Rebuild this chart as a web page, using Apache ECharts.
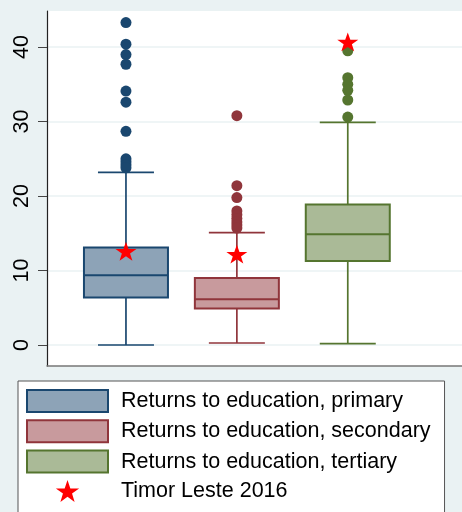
<!DOCTYPE html>
<html>
<head>
<meta charset="utf-8">
<script src="https://cdn.jsdelivr.net/npm/echarts@6/dist/echarts.min.js"></script>
<style>
  html, body { margin: 0; padding: 0; background: #eaf2f3; }
  #chart { width: 462px; height: 512px; }
</style>
</head>
<body>
<div id="chart"></div>
<script>
// box plot stats
const categories = ['Returns to education, primary', 'Returns to education, secondary', 'Returns to education, tertiary'];
const whiskerLow = [0, 0.27, 0.19];
const q1 = [6.37, 4.89, 11.29];
const median = [9.37, 6.14, 14.88];
const q3 = [13.09, 9.0, 18.87];
const whiskerHigh = [23.17, 15.1, 29.9];
const outliers = [
  [43.3, 40.4, 39.0, 37.7, 34.1, 32.6, 28.7, 25.0, 24.6, 24.2, 23.8],
  [30.8, 21.4, 19.8, 18.0, 17.5, 17.0, 16.5, 16.1, 15.7],
  [39.5, 35.9, 35.0, 34.2, 32.9, 30.6]
];
const timorLeste = [12.6, 12.2, 40.7];
const starName = 'Timor Leste 2016';
const yTicks = [0, 10, 20, 30, 40];

const lineColors = ['#1a476f', '#90353b', '#55752f'];
const fillColors = ['#8da3b7', '#c89a9d', '#aaba97'];
const starPath = 'path://M50,0 L61.8,35.1 L98.1,35.1 L68.8,56.7 L79.4,91 L50,70 L20.6,91 L31.2,56.7 L1.9,35.1 L38.2,35.1 Z';
const fontFamily = '"Liberation Sans", Arial, sans-serif';

const chart = echarts.init(document.getElementById('chart'));

// draws one stata-style box: whiskers with short caps, filled box, median line
const boxRenderer = (i) => (params, api) => {
  const x = api.value(0);
  const lo = api.coord([x, api.value(1)]);
  const b = api.coord([x, api.value(2)]);
  const m = api.coord([x, api.value(3)]);
  const t = api.coord([x, api.value(4)]);
  const hi = api.coord([x, api.value(5)]);
  const halfBox = 42, halfCap = 28;
  const line = { stroke: lineColors[i], lineWidth: 1.7 };
  return {
    type: 'group',
    children: [
      { type: 'line', shape: { x1: lo[0], y1: lo[1], x2: b[0], y2: b[1] }, style: line },
      { type: 'line', shape: { x1: t[0], y1: t[1], x2: hi[0], y2: hi[1] }, style: line },
      { type: 'line', shape: { x1: lo[0] - halfCap, y1: lo[1], x2: lo[0] + halfCap, y2: lo[1] }, style: line },
      { type: 'line', shape: { x1: hi[0] - halfCap, y1: hi[1], x2: hi[0] + halfCap, y2: hi[1] }, style: line },
      { type: 'rect', shape: { x: t[0] - halfBox, y: t[1], width: halfBox * 2, height: b[1] - t[1] },
        style: { fill: fillColors[i], stroke: lineColors[i], lineWidth: 2 } },
      { type: 'line', shape: { x1: m[0] - halfBox, y1: m[1], x2: m[0] + halfBox, y2: m[1] },
        style: { stroke: lineColors[i], lineWidth: 2 } }
    ]
  };
};

const series = [];
categories.forEach((name, i) => {
  series.push({
    name: name,
    type: 'custom',
    renderItem: boxRenderer(i),
    encode: { x: 0, y: [1, 2, 3, 4, 5] },
    itemStyle: { color: fillColors[i] },
    data: [[i, whiskerLow[i], q1[i], median[i], q3[i], whiskerHigh[i]]],
    z: 2
  });
  series.push({
    name: 'outliers ' + i,
    type: 'scatter',
    symbol: 'circle',
    symbolSize: 11,
    itemStyle: { color: lineColors[i], opacity: 1 },
    data: outliers[i].map(v => [i, v]),
    z: 3
  });
});

series.push({
  name: starName,
  type: 'scatter',
  symbol: starPath,
  symbolSize: [21, 20],
  symbolKeepAspect: true,
  itemStyle: { color: '#ff0000', opacity: 1 },
  data: timorLeste.map((v, i) => [i, v]),
  z: 4
});

chart.setOption({
  animation: false,
  backgroundColor: '#eaf2f3',
  textStyle: { fontFamily: fontFamily },
  grid: {
    left: 47, right: 0, top: 11, bottom: 146,
    show: true, backgroundColor: '#ffffff', borderWidth: 0
  },
  xAxis: {
    type: 'value',
    min: -0.712,
    max: 3.03,
    axisLine: { show: true, onZero: false, lineStyle: { color: '#777777', width: 1.5 } },
    axisTick: { show: false },
    axisLabel: { show: false },
    splitLine: { show: false }
  },
  yAxis: {
    type: 'value',
    min: -2.82,
    max: 44.85,
    axisLine: { show: true, onZero: false, lineStyle: { color: '#222222', width: 1.2 } },
    axisTick: { show: true, length: 9, customValues: yTicks, lineStyle: { color: '#444444', width: 1 } },
    axisLabel: {
      customValues: yTicks,
      rotate: 90,
      margin: 14,
      fontSize: 21.5,
      color: '#000000',
      fontFamily: fontFamily
    },
    splitLine: { show: true, lineStyle: { color: '#eaf2f3', width: 1.5 } }
  },
  legend: {
    orient: 'vertical',
    left: 18,
    top: 381,
    height: 160,
    padding: [8, 14, 30, 8],
    backgroundColor: '#ffffff',
    borderColor: '#555555',
    borderWidth: 1,
    borderRadius: 0,
    itemWidth: 81,
    itemHeight: 22,
    itemGap: 6.3,
    selectedMode: false,
    textStyle: { fontSize: 21.5, lineHeight: 22, color: '#000000', fontFamily: fontFamily, padding: [0, 0, 0, 8] },
    data: categories.map((name, i) => ({
      name: name,
      icon: 'rect',
      itemStyle: { color: fillColors[i], borderColor: lineColors[i], borderWidth: 2 }
    })).concat([{ name: starName, icon: starPath, itemStyle: { color: '#ff0000', borderWidth: 0 } }])
  },
  series: series
});
</script>
</body>
</html>
